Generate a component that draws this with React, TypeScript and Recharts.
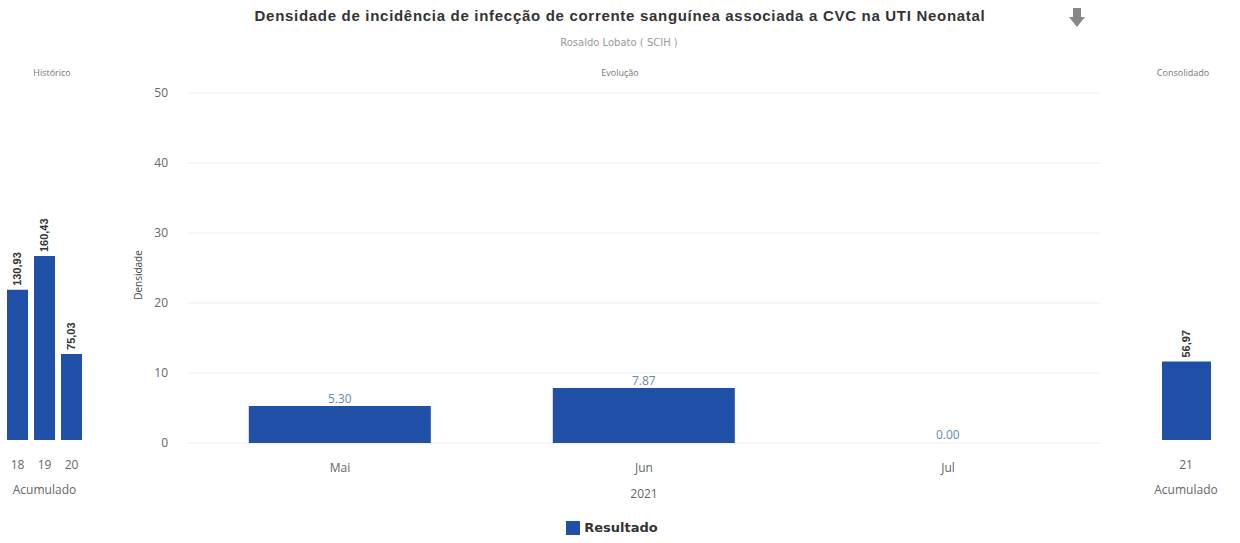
import React from "react";
import {
  BarChart,
  Bar,
  Cell,
  XAxis,
  YAxis,
  CartesianGrid,
  LabelList,
  Legend,
} from "recharts";

const historyYears = ["18", "19", "20"];
const historyValues = [130.93, 160.43, 75.03];

const months = ["Mai", "Jun", "Jul"];
const monthValues = [5.3, 7.87, 0.0];
const yTicks = [0, 10, 20, 30, 40, 50];

const consolidatedYears = ["21"];
const consolidatedValues = [56.97];

const BLUE = "#1f4fa6";
const FONT = "'Open Sans', 'Liberation Sans', Arial, sans-serif";

const historyData = historyYears.map((year, i) => ({ year, value: historyValues[i] }));
const monthData = months.map((month, i) => ({ month, value: monthValues[i] }));
const consolidatedData = consolidatedYears.map((year, i) => ({ year, value: consolidatedValues[i] }));

// rotated bold value label above the small bars
function RotatedLabel(props: any) {
  const { x, y, width, value } = props;
  const cx = x + width / 2 + 4;
  const cy = y - 4;
  return (
    <text
      x={cx}
      y={cy}
      transform={`rotate(-90 ${cx} ${cy})`}
      fill="#333"
      fontSize={11}
      fontWeight="bold"
      fontFamily="'Liberation Sans', Arial, sans-serif"
      textAnchor="start"
    >
      {Number(value).toFixed(2).replace(".", ",")}
    </text>
  );
}

const panelTitle: React.CSSProperties = {
  position: "absolute",
  fontFamily: FONT,
  fontSize: 9,
  color: "#777",
  whiteSpace: "nowrap",
  transform: "translateX(-50%)",
};

const tickStyle = { fill: "#666", fontSize: 12, fontFamily: FONT };

export default function App() {
  return (
    <div style={{ position: "absolute", left: 0, top: 0, width: 1240, height: 543, background: "#fff", overflow: "hidden" }}>
      <div
        style={{
          position: "absolute",
          left: 620,
          top: 7,
          transform: "translateX(-50%)",
          fontFamily: "'Liberation Sans', Arial, sans-serif",
          fontWeight: "bold",
          fontSize: 15,
          letterSpacing: 0.7,
          color: "#333",
          whiteSpace: "nowrap",
        }}
      >
        Densidade de incidência de infecção de corrente sanguínea associada a CVC na UTI Neonatal
      </div>
      <div style={{ ...panelTitle, left: 619, top: 37, fontFamily: "'DejaVu Sans', sans-serif", fontSize: 10, color: "#999" }}>
        Rosaldo Lobato ( SCIH )
      </div>
      <div style={{ ...panelTitle, left: 620, top: 66 }}>Evolução</div>
      <div style={{ ...panelTitle, left: 52, top: 66 }}>Histórico</div>
      <div style={{ ...panelTitle, left: 1183, top: 66 }}>Consolidado</div>

      <svg style={{ position: "absolute", left: 1068, top: 7 }} width={18} height={22}>
        <path d="M5 1 H13 V10 H17 L9 20 L1 10 H5 Z" fill="#888" />
      </svg>

      <div style={{ position: "absolute", left: 0, top: 80 }}>
        <BarChart width={92} height={426} data={historyData} margin={{ top: 16, right: 7, bottom: 0, left: 4 }}>
          <XAxis
            dataKey="year"
            height={66}
            axisLine={false}
            tickLine={false}
            tick={tickStyle}
            tickMargin={14}
            label={{ value: "Acumulado", position: "insideBottom", offset: 12, fill: "#666", fontSize: 12, fontFamily: FONT }}
          />
          <YAxis hide domain={[0, 300]} />
          <Bar dataKey="value" fill={BLUE} barSize={21} isAnimationActive={false}>
            <LabelList dataKey="value" content={<RotatedLabel />} />
          </Bar>
        </BarChart>
      </div>

      <div style={{ position: "absolute", left: 100, top: 80 }}>
        <BarChart width={1010} height={463} data={monthData} margin={{ top: 13, right: 10, bottom: 20, left: 28 }} barCategoryGap="20%">
          <CartesianGrid vertical={false} stroke="#ececec" />
          <XAxis
            dataKey="month"
            height={57}
            axisLine={false}
            tickLine={false}
            tick={tickStyle}
            tickMargin={14}
            label={{ value: "2021", position: "insideBottom", offset: 2, fill: "#666", fontSize: 12, fontFamily: FONT }}
          />
          <YAxis
            width={60}
            domain={[0, 50]}
            ticks={yTicks}
            axisLine={false}
            tickLine={false}
            tick={tickStyle}
            tickMargin={14}
            label={{ value: "Densidade", angle: -90, position: "insideLeft", offset: 10, dy: 7, fill: "#444", fontSize: 10, fontFamily: FONT, style: { textAnchor: "middle" } }}
          />
          <Legend
            verticalAlign="bottom"
            height={23}
            iconType="square"
            iconSize={14}
            wrapperStyle={{ bottom: 2, left: 31 }}
            formatter={(v: string) => (
              <span style={{ color: "#333", fontWeight: "bold", fontSize: 13, fontFamily: "'DejaVu Sans', sans-serif" }}>{v}</span>
            )}
          />
          <Bar dataKey="value" name="Resultado" fill={BLUE} minPointSize={1} isAnimationActive={false}>
            {monthValues.map((v, i) => (
              <Cell key={i} fill={v === 0 ? "transparent" : BLUE} />
            ))}
            <LabelList
              dataKey="value"
              position="top"
              offset={3}
              fill="#6a88aa"
              fontSize={12}
              fontFamily={FONT}
              formatter={(v: any) => Number(v).toFixed(2)}
            />
          </Bar>
        </BarChart>
      </div>

      <div style={{ position: "absolute", left: 1140, top: 80 }}>
        <BarChart width={92} height={426} data={consolidatedData} margin={{ top: 16, right: 10, bottom: 0, left: 10 }}>
          <XAxis
            dataKey="year"
            height={66}
            axisLine={false}
            tickLine={false}
            tick={tickStyle}
            tickMargin={14}
            label={{ value: "Acumulado", position: "insideBottom", offset: 12, fill: "#666", fontSize: 12, fontFamily: FONT }}
          />
          <YAxis hide domain={[0, 250]} />
          <Bar dataKey="value" fill={BLUE} barSize={49} isAnimationActive={false}>
            <LabelList dataKey="value" content={<RotatedLabel />} />
          </Bar>
        </BarChart>
      </div>
    </div>
  );
}
